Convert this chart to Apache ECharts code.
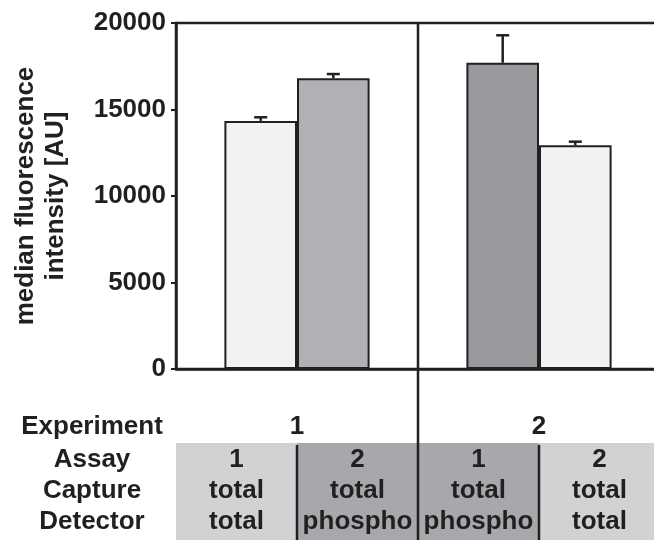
<!DOCTYPE html>
<html><head><meta charset="utf-8">
<script src="https://cdn.jsdelivr.net/npm/echarts@6/dist/echarts.min.js"></script>
<style>html,body{margin:0;padding:0;background:#fff}#c{width:654px;height:540px}</style>
</head><body><div id="c"></div>
<script>
// ---- data ----
const experiments = ['1', '2'];
const firstBarValues = [14340, 17700];
const firstBarErrors = [210, 1590];
const secondBarValues = [16800, 12930];
const secondBarErrors = [250, 210];
const yMin = 0, yMax = 20000, yInterval = 5000;
const yTitle = 'median fluorescence\nintensity [AU]';
const rowHeaders = ['Experiment', 'Assay', 'Capture', 'Detector'];
const assay = ['1', '2', '1', '2'];
const capture = ['total', 'total', 'total', 'total'];
const detector = ['total', 'phospho', 'phospho', 'total'];

// ---- styles ----
const INK = '#231f20';
const FONT = 'Liberation Sans, Arial, sans-serif';
const FS = 26;
const firstBarColors = ['#f1f2f1', '#98999d'];
const secondBarColors = ['#b0b1b4', '#f1f2f1'];
const cellColors = ['#d1d2d4', '#a7a8ab', '#a7a8ab', '#d1d2d4'];

const chart = echarts.init(document.getElementById('c'), null, {renderer: 'canvas'});

function errItem(side) {
  return function (params, api) {
    const base = api.coord([api.value(0), api.value(1)]);
    const top = api.coord([api.value(0), api.value(1) + api.value(2)]);
    const band = api.size([1, 0])[0];
    const x = base[0] + side * band * 0.15;
    return {
      type: 'group',
      children: [
        {type: 'line', shape: {x1: x, y1: base[1], x2: x, y2: top[1]}, style: {stroke: INK, lineWidth: 2.5}},
        {type: 'line', shape: {x1: x - 6.5, y1: top[1], x2: x + 6.5, y2: top[1]}, style: {stroke: INK, lineWidth: 2.5}}
      ]
    };
  };
}

chart.setOption({
  animation: false,
  backgroundColor: '#fff',
  grid: {left: 176, top: 23, width: 484, height: 346, containLabel: false, outerBoundsMode: 'none',
         show: true, borderColor: INK, borderWidth: 2.5, backgroundColor: 'transparent'},
  xAxis: {
    type: 'category', data: experiments,
    axisLine: {lineStyle: {color: INK, width: 2.5}},
    axisTick: {alignWithLabel: true, length: 6, lineStyle: {color: INK, width: 2}},
    axisLabel: {margin: 45, color: INK, fontFamily: FONT, fontWeight: 'bold', fontSize: FS},
    splitLine: {show: false}
  },
  yAxis: {
    type: 'value', min: yMin, max: yMax, interval: yInterval,
    name: yTitle, nameLocation: 'middle', nameGap: 105, nameRotate: 90,
    nameTextStyle: {color: INK, fontFamily: FONT, fontWeight: 'bold', fontSize: FS, lineHeight: 30, align: 'center'},
    axisLine: {show: true, lineStyle: {color: INK, width: 2.5}},
    axisTick: {show: true, length: 5, lineStyle: {color: INK, width: 2}},
    axisLabel: {margin: 10, color: INK, fontFamily: FONT, fontWeight: 'bold', fontSize: FS, formatter: v => String(v)},
    splitLine: {show: false}
  },
  series: [
    {type: 'bar', barGap: '0%', barCategoryGap: '40%',
     data: firstBarValues.map((v, i) => ({value: v, itemStyle: {color: firstBarColors[i]}})),
     itemStyle: {borderColor: INK, borderWidth: 2}},
    {type: 'bar', barGap: '0%', barCategoryGap: '40%',
     data: secondBarValues.map((v, i) => ({value: v, itemStyle: {color: secondBarColors[i]}})),
     itemStyle: {borderColor: INK, borderWidth: 2}},
    {type: 'custom', renderItem: errItem(-1), encode: {x: 0, y: 1}, z: 5,
     data: firstBarValues.map((v, i) => [i, v, firstBarErrors[i]])},
    {type: 'custom', renderItem: errItem(1), encode: {x: 0, y: 1}, z: 5,
     data: secondBarValues.map((v, i) => [i, v, secondBarErrors[i]])}
  ]
});

// ---- table below the axis, positioned from the axis scale ----
const c0 = chart.convertToPixel({xAxisIndex: 0}, 0);
const c1 = chart.convertToPixel({xAxisIndex: 0}, 1);
const band = c1 - c0;
const yTop = chart.convertToPixel({yAxisIndex: 0}, yMax);
const yZero = chart.convertToPixel({yAxisIndex: 0}, yMin);
const H = 540;
const tableTop = yZero + 74;
const rowY = [yZero + 58, yZero + 91, yZero + 122, yZero + 153];
const colEdges = [c0 - band / 2, c0, c0 + band / 2, c1, c1 + band / 2];
const headerX = 92;

const g = [];
for (let i = 0; i < 4; i++) {
  g.push({type: 'rect', z: 1, shape: {x: colEdges[i], y: tableTop, width: colEdges[i + 1] - colEdges[i], height: H - tableTop},
          style: {fill: cellColors[i]}});
  const cx = (colEdges[i] + colEdges[i + 1]) / 2;
  [assay[i], capture[i], detector[i]].forEach((t, r) => {
    g.push({type: 'text', z: 10, x: cx, y: rowY[r + 1],
            style: {text: t, fill: INK, font: 'bold ' + FS + 'px ' + FONT, align: 'center', verticalAlign: 'middle'}});
  });
}
rowHeaders.forEach((t, r) => {
  g.push({type: 'text', z: 10, x: headerX, y: rowY[r],
          style: {text: t, fill: INK, font: 'bold ' + FS + 'px ' + FONT, align: 'center', verticalAlign: 'middle'}});
});
// experiment divider (full height)
g.push({type: 'line', z: 20, shape: {x1: colEdges[2], y1: yTop, x2: colEdges[2], y2: H}, style: {stroke: INK, lineWidth: 2.5}});
// assay dividers inside the table
[colEdges[1], colEdges[3]].forEach(x => {
  g.push({type: 'line', z: 20, shape: {x1: x, y1: tableTop + 2, x2: x, y2: H}, style: {stroke: INK, lineWidth: 2.5}});
});
chart.setOption({graphic: g});
</script>
</body></html>
